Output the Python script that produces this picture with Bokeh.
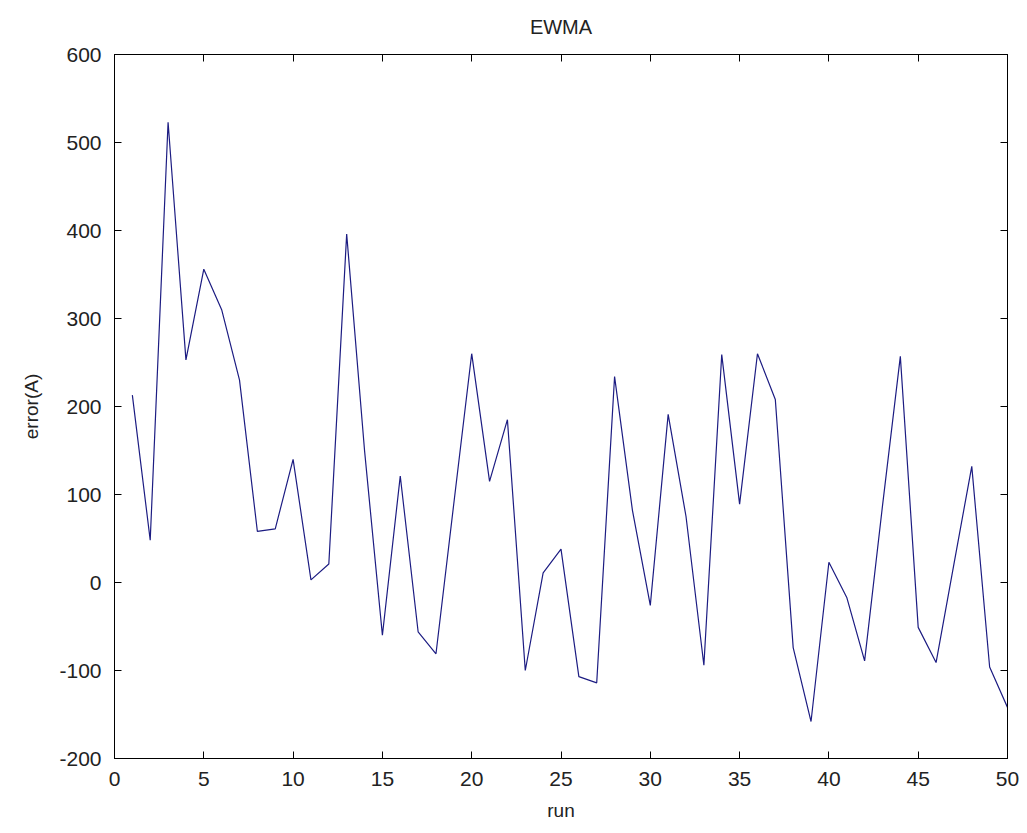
from bokeh.plotting import figure
from bokeh.models import LinearAxis, Range1d, SingleIntervalTicker, CustomJSTickFormatter, ColumnDataSource
from bokeh.embed import file_html
from bokeh.resources import INLINE

title_text = "EWMA"
x_label = "run"
y_label = "error(A)"

runs = list(range(1, 51))
errors = [213, 48, 523, 253, 356, 310, 230, 58, 61, 140,
          3, 21, 396, 150, -60, 121, -56, -81, 90, 260,
          115, 185, -100, 11, 38, -107, -114, 234, 82, -26,
          191, 75, -94, 259, 89, 260, 208, -74, -158, 23,
          -17, -89, 87, 257, -51, -91, 21, 132, -96, -142]

FONT = "Liberation Sans"
TXT = "#222222"

src = ColumnDataSource(dict(x=runs, y=errors))

p = figure(width=1019, height=825, output_backend="svg", toolbar_location=None,
           x_range=Range1d(0, 50), y_range=Range1d(-200, 600),
           min_border_left=114, min_border_right=12, min_border_top=54, min_border_bottom=67)
p.background_fill_color = "white"
p.border_fill_color = "white"
p.outline_line_color = "black"
p.outline_line_width = 1
p.grid.visible = False

p.title.text = title_text
p.title.align = "center"
p.title.vertical_align = "top"
p.title.text_font = FONT
p.title.text_font_size = "20px"
p.title.text_font_style = "normal"
p.title.text_color = TXT
p.title.offset = 0
p.title.standoff = 30

p.line("x", "y", source=src, line_color="#1c1c82", line_width=1.2)

plain = CustomJSTickFormatter(code="return tick.toString()")

for ax in (p.xaxis[0], p.yaxis[0]):
    ax.major_tick_in = 7
    ax.major_tick_out = 0
    ax.minor_tick_in = 0
    ax.minor_tick_out = 0
    ax.axis_line_color = "black"
    ax.major_tick_line_color = "black"
    ax.major_label_text_font = FONT
    ax.major_label_text_font_size = "21px"
    ax.major_label_text_color = TXT
    ax.axis_label_text_font = FONT
    ax.axis_label_text_font_size = "19px"
    ax.axis_label_text_font_style = "normal"
    ax.axis_label_text_color = TXT
    ax.formatter = plain

p.xaxis[0].ticker = SingleIntervalTicker(interval=5)
p.yaxis[0].ticker = SingleIntervalTicker(interval=100)
p.xaxis[0].axis_label = x_label
p.yaxis[0].axis_label = y_label
p.xaxis[0].major_label_standoff = 13
p.xaxis[0].axis_label_standoff = 11
p.yaxis[0].major_label_standoff = 13
p.yaxis[0].axis_label_standoff = 14

blank = CustomJSTickFormatter(code="return ''")
top = LinearAxis(ticker=SingleIntervalTicker(interval=5), formatter=blank,
                 major_tick_in=7, major_tick_out=0, minor_tick_in=0, minor_tick_out=0,
                 major_label_standoff=0)
right = LinearAxis(ticker=SingleIntervalTicker(interval=100), formatter=blank,
                   major_tick_in=7, major_tick_out=0, minor_tick_in=0, minor_tick_out=0,
                   major_label_standoff=0)
p.add_layout(top, "above")
p.add_layout(right, "right")

open("out.html", "w").write(file_html(p, INLINE))
